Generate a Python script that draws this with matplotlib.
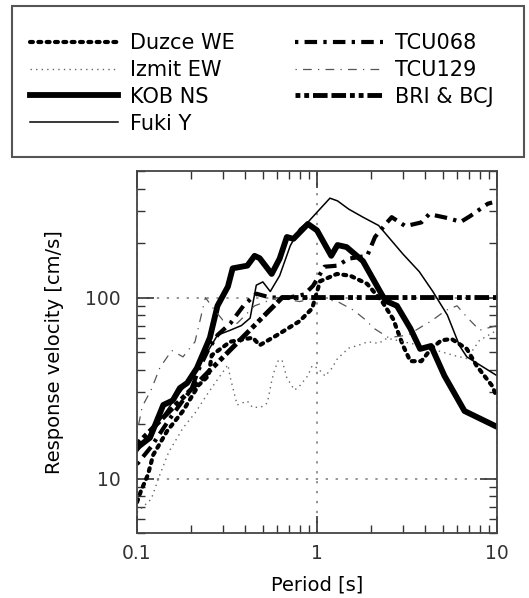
import matplotlib
matplotlib.use('Agg')
import matplotlib.pyplot as plt
from matplotlib.patches import Rectangle
from matplotlib.ticker import LogLocator, NullFormatter, FixedLocator, FixedFormatter

# periodo [s] e velocidade de resposta [cm/s]
duzce_T = [0.1, 0.105, 0.115, 0.123, 0.147, 0.18, 0.22, 0.25, 0.26, 0.33, 0.44, 0.48, 0.6, 0.8, 0.94,
           1.04, 1.29, 1.53, 1.9, 2.3, 2.65, 3.0, 3.3, 3.8, 4.3, 4.9, 5.6, 6.8, 7.7, 9.4, 10]
duzce_V = [7.4, 8.5, 10.5, 13.5, 18.3, 23.6, 32.8, 37, 48, 57, 60, 54.5, 62, 74, 87,
           123, 135, 132, 119, 95, 76, 54.5, 44.5, 44.5, 52, 58, 59, 52, 42, 32.5, 28]

izmit_T = [0.1, 0.12, 0.134, 0.15, 0.18, 0.21, 0.25, 0.29, 0.32, 0.33, 0.36, 0.41, 0.44, 0.5, 0.53,
           0.56, 0.58, 0.61, 0.64, 0.68, 0.75, 0.8, 0.89, 0.94, 1.01, 1.11, 1.21, 1.3, 1.5, 1.7,
           1.92, 2.2, 2.45, 3.7, 5.7, 6.8, 8.0, 10]
izmit_V = [6.5, 7.7, 10.5, 14, 19, 23, 30, 37, 42.5, 36, 25.5, 26.8, 24.6, 25, 26.2,
           34.5, 39.6, 45, 45, 36, 30.8, 32.4, 37, 42, 40.7, 36.8, 40.7, 46, 52.5, 54.5,
           57, 55.8, 59.6, 54.5, 48, 46, 58, 66]

kob_T = [0.1, 0.118, 0.14, 0.158, 0.173, 0.19, 0.215, 0.24, 0.254, 0.28, 0.32, 0.34, 0.41, 0.45,
         0.48, 0.56, 0.62, 0.68, 0.74, 0.89, 1.0, 1.2, 1.3, 1.46, 1.8, 2.24, 2.4, 2.78, 3.3, 3.74,
         4.3, 5.1, 6.6, 10]
kob_V = [14.8, 16.8, 25.5, 27, 31.6, 33.7, 40.7, 52.5, 60, 90, 115, 145, 150, 170,
         165, 135, 164, 216, 211, 255, 235, 170, 195, 190, 159, 108, 96, 90, 67.5, 52,
         54, 37, 23.6, 19.3]

fuki_T = [0.1, 0.13, 0.16, 0.2, 0.24, 0.28, 0.33, 0.38, 0.425, 0.46, 0.5, 0.55, 0.62, 0.71, 0.8,
          0.9, 1.0, 1.18, 1.3, 1.5, 1.8, 2.2, 3.0, 3.7, 4.4, 5.3, 6.2, 6.8, 10]
fuki_V = [14, 20, 27, 36, 48, 62, 66, 70, 77, 117, 122, 108, 132, 193, 240,
          264, 296, 354, 342, 308, 278, 250, 174, 139, 108, 80, 54, 47, 37]

tcu068_T = [0.1, 0.12, 0.15, 0.18, 0.2, 0.22, 0.25, 0.28, 0.33, 0.39, 0.46, 0.55, 0.7, 0.85, 0.95,
            1.1, 1.3, 1.5, 1.9, 2.1, 2.45, 2.6, 3.1, 3.8, 4.2, 5.3, 6.3, 7.1, 8.9, 9.4]
tcu068_V = [12, 15, 21, 27, 31, 40, 52, 62, 72, 90, 105, 100, 100, 104, 116,
            148, 150, 164, 170, 216, 260, 278, 248, 260, 289, 275, 262, 282, 330, 335]

tcu129_T = [0.1, 0.107, 0.12, 0.134, 0.156, 0.18, 0.21, 0.24, 0.27, 0.3, 0.36, 0.45, 0.6, 0.8, 1.0,
            1.3, 1.6, 1.9, 2.05, 2.5, 3.2, 3.9, 4.3, 5.2, 6.0, 6.8, 8.0, 10]
tcu129_V = [18, 25, 31, 41, 51, 47, 57, 100, 85, 75, 72, 90, 100, 95, 100,
            95, 85, 74, 68, 60, 62, 70, 74, 85, 90, 78, 66, 70]

bri_T = [0.1, 0.64, 10]
bri_V = [15.5, 100, 100]

x_ticks = [0.1, 1, 10]
x_labels = ['0.1', '1', '10']
y_ticks = [10, 100]
y_labels = ['10', '100']

plt.rcParams['font.family'] = ['DejaVu Sans']

fig = plt.figure(figsize=(5.29, 5.98), dpi=100)
ax = fig.add_axes([0.259, 0.1087, 0.6805, 0.6053])

# curvas
ax.plot(duzce_T, duzce_V, color='black', lw=3, dashes=(0.7, 1.3), dash_capstyle='round', label='Duzce WE')
ax.plot(izmit_T, izmit_V, color='#666666', lw=1.0, dashes=(1, 3), label='Izmit EW')
ax.plot(kob_T, kob_V, color='black', lw=4.2, solid_joinstyle='round', label='KOB NS')
ax.plot(fuki_T, fuki_V, color='black', lw=1.1, label='Fuki Y')
ax.plot(tcu068_T, tcu068_V, color='black', lw=3, dashes=(0.8, 1.5, 3, 1.5), label='TCU068')
ax.plot(tcu129_T, tcu129_V, color='#555555', lw=0.9, dashes=(1, 5, 7, 5), label='TCU129')
ax.plot(bri_T, bri_V, color='black', lw=3.5, dashes=(1, 0.8, 1, 0.8, 3, 0.8, 3, 0.8), label='BRI & BCJ')

ax.set_xscale('log')
ax.set_yscale('log')
ax.set_xlim(0.1, 10)
ax.set_ylim(5, 500)

ax.xaxis.set_major_locator(FixedLocator(x_ticks))
ax.xaxis.set_major_formatter(FixedFormatter(x_labels))
ax.yaxis.set_major_locator(FixedLocator(y_ticks))
ax.yaxis.set_major_formatter(FixedFormatter(y_labels))
ax.xaxis.set_minor_locator(LogLocator(base=10, subs=range(2, 10)))
ax.yaxis.set_minor_locator(LogLocator(base=10, subs=range(2, 10)))
ax.xaxis.set_minor_formatter(NullFormatter())
ax.yaxis.set_minor_formatter(NullFormatter())

ax.tick_params(which='both', direction='in', top=True, right=True, colors='#333333')
ax.tick_params(which='major', length=12, width=1.2, labelsize=13.5)
ax.tick_params(which='minor', length=5.5, width=1.0)
ax.tick_params(axis='x', which='major', pad=8)
ax.tick_params(axis='y', which='major', pad=12)

for s in ax.spines.values():
    s.set_color('#444444')
    s.set_linewidth(1.3)

ax.grid(which='major', color='#777777', lw=1.1, linestyle=(0, (1.5, 5)))
ax.set_axisbelow(True)

ax.set_xlabel('Period [s]', fontsize=14, labelpad=9)
ax.set_ylabel('Response velocity [cm/s]', fontsize=14, labelpad=15)

# legenda em caixa separada acima do grafico
fig.add_artist(Rectangle((12 / 529, 1 - 157 / 598), 512 / 529, 151 / 598,
                         transform=fig.transFigure, fill=False, lw=1.5, ec='#555555'))
fig.legend(loc='upper left', bbox_to_anchor=(30 / 529, 1 - 33 / 598), ncol=2, frameon=False,
           fontsize=15, handlelength=4.2, handletextpad=0.6, columnspacing=2.9,
           labelspacing=0.33, borderpad=0, borderaxespad=0)

plt.savefig('out.png', dpi=100)
plt.close()
